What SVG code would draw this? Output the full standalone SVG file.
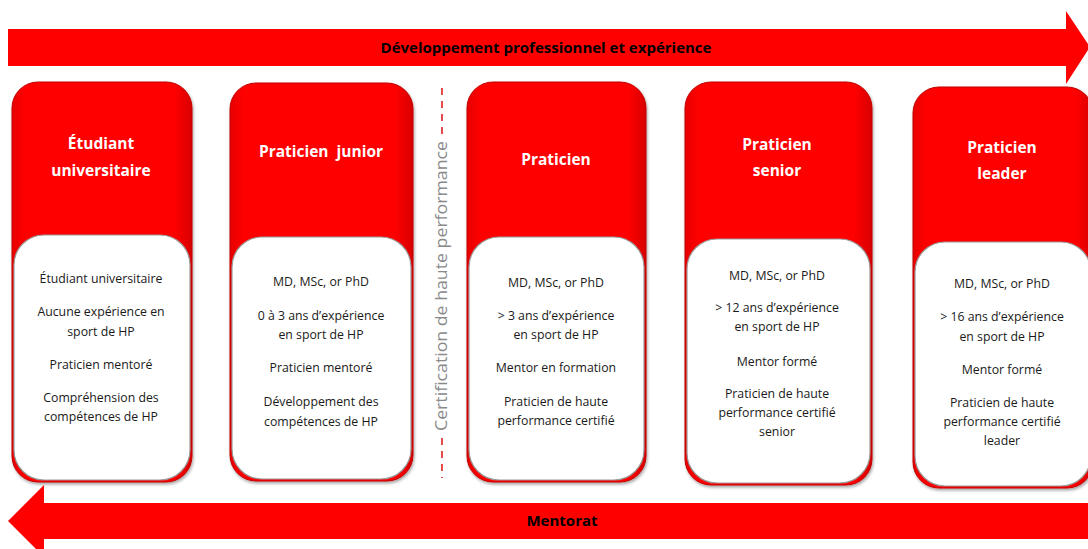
<svg xmlns="http://www.w3.org/2000/svg" width="1088" height="549" viewBox="0 0 1088 549">
<style>
.arrow{fill:#ff0000}
.atext{font-family:"Open Sans","Liberation Sans",sans-serif;font-weight:bold;font-size:15px;fill:#000;text-anchor:middle}
.card{fill:url(#redg);stroke:#c00000;stroke-width:1}
.inner{fill:#ffffff;stroke:#9a9a9a;stroke-width:1.2}
.title{font-family:"Open Sans","Liberation Sans",sans-serif;font-weight:bold;font-size:15.5px;fill:#fff;text-anchor:middle}
.body{font-family:"Open Sans","Liberation Sans",sans-serif;font-size:12.3px;fill:#1a1a1a;text-anchor:middle}
.cert{font-family:"Open Sans","Liberation Sans",sans-serif;font-size:16px;fill:#8a8a8a;text-anchor:middle}
.dash{stroke:#e02020;stroke-width:1.6;stroke-dasharray:7 6;fill:none}
</style>
<defs>
<linearGradient id="redg" x1="0" y1="0" x2="1" y2="0">
<stop offset="0" stop-color="#e80000"/>
<stop offset="0.08" stop-color="#ff0000"/>
<stop offset="0.9" stop-color="#ff0000"/>
<stop offset="1" stop-color="#d80000"/>
</linearGradient>
<filter id="sh" x="-10%" y="-10%" width="120%" height="120%">
<feDropShadow dx="1" dy="2" stdDeviation="1.5" flood-color="#000" flood-opacity="0.35"/>
</filter>
</defs>

<g id="connectors">
<g id="arrow-top">
<polygon class="arrow" points="8,29 1066,29 1066,11 1090,47 1066,84 1066,66 8,66"/>
<text class="atext" x="546" y="53">Développement professionnel et expérience</text>
</g>
<g id="arrow-bottom">
<polygon class="arrow" points="1088,503 44,503 44,485 8,521 44,557 44,539 1088,539"/>
<text class="atext" x="562" y="526">Mentorat</text>
</g>
<g id="cert-line">
<line class="dash" x1="442" y1="88" x2="442" y2="134"/>
<line class="dash" x1="442" y1="438" x2="442" y2="478"/>
<text class="cert" transform="translate(447,286) rotate(-90)" textLength="290" lengthAdjust="spacingAndGlyphs">Certification de haute performance</text>
</g>
</g>

<g id="node1">
<rect class="card" x="12" y="82" width="180" height="400" rx="26" filter="url(#sh)"/>
<rect class="inner" x="14" y="235" width="176" height="245" rx="30"/>
<text class="title" x="101" y="149">Étudiant</text>
<text class="title" x="101" y="176">universitaire</text>
<text class="body" x="101" y="283">Étudiant universitaire</text>
<text class="body" x="101" y="316">Aucune expérience en</text>
<text class="body" x="101" y="336">sport de HP</text>
<text class="body" x="101" y="369">Praticien mentoré</text>
<text class="body" x="101" y="402">Compréhension des</text>
<text class="body" x="101" y="421">compétences de HP</text>
</g>

<g id="node2">
<rect class="card" x="230" y="83" width="183" height="398" rx="26" filter="url(#sh)"/>
<rect class="inner" x="232" y="237" width="179" height="242" rx="30"/>
<text class="title" x="321" y="157">Praticien&#160; junior</text>
<text class="body" x="321" y="286">MD, MSc, or PhD</text>
<text class="body" x="321" y="320">0 à 3 ans d’expérience</text>
<text class="body" x="321" y="339">en sport de HP</text>
<text class="body" x="321" y="372">Praticien mentoré</text>
<text class="body" x="321" y="406">Développement des</text>
<text class="body" x="321" y="426">compétences de HP</text>
</g>

<g id="node3">
<rect class="card" x="467" y="82" width="179" height="400" rx="26" filter="url(#sh)"/>
<rect class="inner" x="469" y="237" width="175" height="243" rx="30"/>
<text class="title" x="556" y="165">Praticien</text>
<text class="body" x="556" y="287">MD, MSc, or PhD</text>
<text class="body" x="556" y="320">&gt; 3 ans d’expérience</text>
<text class="body" x="556" y="339">en sport de HP</text>
<text class="body" x="556" y="372">Mentor en formation</text>
<text class="body" x="556" y="406">Praticien de haute</text>
<text class="body" x="556" y="425">performance certifié</text>
</g>

<g id="node4">
<rect class="card" x="685" y="82" width="187" height="403" rx="26" filter="url(#sh)"/>
<rect class="inner" x="687" y="239" width="183" height="244" rx="30"/>
<text class="title" x="777" y="150">Praticien</text>
<text class="title" x="777" y="176">senior</text>
<text class="body" x="777" y="280">MD, MSc, or PhD</text>
<text class="body" x="777" y="312">&gt; 12 ans d’expérience</text>
<text class="body" x="777" y="331">en sport de HP</text>
<text class="body" x="777" y="366">Mentor formé</text>
<text class="body" x="777" y="398">Praticien de haute</text>
<text class="body" x="777" y="417">performance certifié</text>
<text class="body" x="777" y="436">senior</text>
</g>

<g id="node5">
<rect class="card" x="913" y="87" width="180" height="401" rx="26" filter="url(#sh)"/>
<rect class="inner" x="915" y="242" width="176" height="244" rx="30"/>
<text class="title" x="1002" y="153">Praticien</text>
<text class="title" x="1002" y="179">leader</text>
<text class="body" x="1002" y="288">MD, MSc, or PhD</text>
<text class="body" x="1002" y="321">&gt; 16 ans d’expérience</text>
<text class="body" x="1002" y="341">en sport de HP</text>
<text class="body" x="1002" y="374">Mentor formé</text>
<text class="body" x="1002" y="407">Praticien de haute</text>
<text class="body" x="1002" y="426">performance certifié</text>
<text class="body" x="1002" y="445">leader</text>
</g>
</svg>
